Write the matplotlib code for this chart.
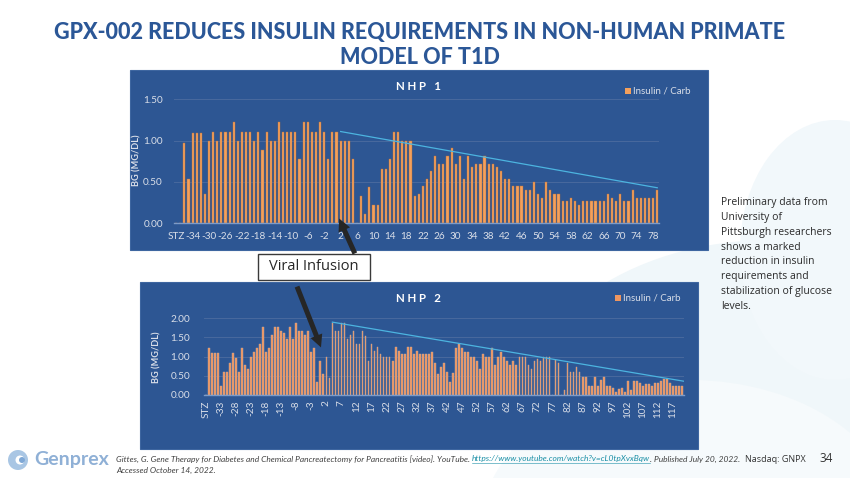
import matplotlib
matplotlib.use("Agg")
import matplotlib.pyplot as plt
from matplotlib.patches import Rectangle, FancyArrowPatch, Ellipse, Wedge

W, H = 850, 478

# ---------------- data ----------------
nhp1_days = list(range(-38, 80))
nhp1_values = [
    0, 0, 0.97, 0.54, 1.09, 1.09, 1.09, 0.36, 1.00, 1.11,
    1.00, 1.11, 1.11, 1.11, 1.22, 1.00, 1.11, 1.11, 1.11, 1.00,
    1.11, 0.89, 1.11, 1.00, 1.00, 1.22, 1.11, 1.11, 1.11, 1.11,
    0.78, 1.22, 1.22, 1.11, 1.11, 1.22, 1.11, 0.78, 1.11, 1.11,
    1.00, 1.00, 1.00, 0.78, 0, 0.33, 0.11, 0.44, 0.22, 0.22,
    0.66, 0.66, 0.78, 1.11, 1.11, 1.00, 1.00, 1.00, 0.33, 0.35,
    0.45, 0.54, 0.63, 0.81, 0.72, 0.72, 0.81, 0.91, 0.72, 0.81,
    0.54, 0.81, 0.68, 0.72, 0.72, 0.81, 0.72, 0.72, 0.68, 0.63,
    0.54, 0.54, 0.45, 0.45, 0.45, 0.40, 0.40, 0.50, 0.35, 0.31,
    0.50, 0.40, 0.35, 0.35, 0.27, 0.27, 0.31, 0.27, 0.22, 0.27,
    0.27, 0.27, 0.27, 0.27, 0.27, 0.35, 0.31, 0.27, 0.35, 0.27,
    0.27, 0.40, 0.31, 0.31, 0.31, 0.31, 0.31, 0.40,
]
nhp1_trend_days = [2, 79]
nhp1_trend_values = [1.11, 0.43]

nhp2_days = list(range(-38, 121))
nhp2_values = [
    0, 1.22, 1.09, 1.09, 1.09, 0.23, 0.59, 0.59, 0.83, 1.09,
    0.97, 0.59, 1.22, 0.78, 0.67, 1.00, 1.11, 1.22, 1.32, 1.77,
    1.11, 1.22, 1.56, 1.77, 1.77, 1.66, 1.61, 1.46, 1.77, 1.46,
    1.87, 1.66, 1.66, 1.56, 1.66, 1.11, 1.22, 0.33, 0.88, 0.56,
    1.00, 0.44, 1.89, 1.66, 1.66, 1.89, 1.87, 1.46, 1.56, 1.66,
    1.33, 1.33, 1.66, 1.55, 0.88, 1.32, 1.16, 1.24, 1.06, 0.98,
    0.98, 0.98, 0.88, 1.24, 1.16, 1.06, 1.06, 1.24, 1.24, 1.06,
    1.16, 1.06, 1.06, 1.06, 1.06, 1.11, 0.83, 0.55, 0.72, 0.83,
    0.59, 0.33, 0.57, 1.22, 1.33, 1.22, 1.11, 1.11, 1.00, 1.00,
    0.88, 0.67, 1.06, 1.00, 1.00, 1.22, 0.78, 1.00, 1.11, 1.00,
    0.88, 0.78, 0.88, 0.78, 1.00, 1.00, 1.00, 0.78, 0.67, 0.88,
    0.94, 0.88, 1.00, 1.00, 1.00, 0, 0.90, 0.83, 0, 0.13,
    0.83, 0.59, 0.59, 0.72, 0.59, 0.48, 0.48, 0.23, 0.23, 0.48,
    0.23, 0.39, 0.48, 0.23, 0.23, 0.17, 0.09, 0.15, 0.17, 0.09,
    0.37, 0.13, 0.37, 0.37, 0.30, 0.23, 0.28, 0.28, 0.23, 0.30,
    0.30, 0.37, 0.42, 0.42, 0.30, 0.23, 0.23, 0.23, 0.23,
]
nhp2_trend_days = [4, 120.5]
nhp2_trend_values = [1.90, 0.36]

first_label = "STZ"
series_name = "Insulin / Carb"
y_label = "BG (MG/DL)"
nhp1_yticks = [0.0, 0.5, 1.0, 1.5]
nhp2_yticks = [0.0, 0.5, 1.0, 1.5, 2.0]

title = "GPX-002 REDUCES INSULIN REQUIREMENTS IN NON-HUMAN PRIMATE\nMODEL OF T1D"
side_text = ("Preliminary data from\nUniversity of\nPittsburgh researchers\n"
             "shows a marked\nreduction in insulin\nrequirements and\n"
             "stabilization of glucose\nlevels.")

# ---------------- styling ----------------
PANEL = "#2D5693"
BAR = "#F4A05C"
BAR_EDGE = "#B8703C"
BAR2 = "#EE9660"
BAR2_EDGE = "#C8A89A"
TICK_C = "#D9DEE8"
GRID_C = "#48699E"
TREND_C = "#4CB4E0"
TITLE_C = "#2B5797"


def fx(x):
    return x / W


def fy(y):
    return 1 - y / H


fig = plt.figure(figsize=(W / 100, H / 100), dpi=100)
fig.patch.set_facecolor("white")

# faint decorative background shapes
for (cx, cy, w, h, c) in [(770, 430, 520, 380, "#F0F7FA"), (690, 530, 420, 300, "#F6FAFC"),
                          (835, 250, 190, 260, "#F2F8FB")]:
    fig.add_artist(Ellipse((fx(cx), fy(cy)), w / W, h / H, transform=fig.transFigure,
                           facecolor=c, edgecolor="none", zorder=-5))

# title
fig.text(fx(420), fy(45), title, ha="center", va="center", fontsize=15.5,
         fontweight="black", color=TITLE_C, family="Lato", linespacing=1.2)

# panels
for (x0, y0, x1, y1) in [(130, 70, 708, 250), (140, 282, 698, 449)]:
    fig.add_artist(Rectangle((fx(x0), fy(y1)), (x1 - x0) / W, (y1 - y0) / H,
                             transform=fig.transFigure, facecolor=PANEL,
                             edgecolor="#3E66A0", lw=0.8, zorder=-1))


def style_axes(ax, yticks, ypad):
    ax.set_facecolor("none")
    for s in ["top", "right", "left"]:
        ax.spines[s].set_visible(False)
    ax.spines["bottom"].set_color("#7D9BC8")
    ax.spines["bottom"].set_linewidth(1.0)
    ax.set_yticks(yticks)
    ax.set_yticklabels([f"{v:.2f}" for v in yticks], family="Lato", fontsize=7.2, color=TICK_C)
    ax.yaxis.grid(True, color=GRID_C, lw=0.7)
    ax.set_axisbelow(True)
    ax.tick_params(axis="both", length=0, colors=TICK_C)
    ax.tick_params(axis="y", pad=ypad)


# ---- NHP 1 ----
ax1 = fig.add_axes([fx(174.1), fy(223.3), (659.3 - 174.1) / W, (223.3 - 99.3) / H])
ax1.bar(nhp1_days, nhp1_values, width=0.52, color=BAR, edgecolor=BAR_EDGE, lw=0.3, zorder=2)
ax1.plot(nhp1_trend_days, nhp1_trend_values, color=TREND_C, lw=0.9, zorder=3)
ax1.set_xlim(nhp1_days[0] - 0.5, nhp1_days[-1] + 0.5)
ax1.set_ylim(nhp1_yticks[0], nhp1_yticks[-1])
style_axes(ax1, nhp1_yticks, 8)
t1 = nhp1_days[::4]
ax1.set_xticks(t1)
ax1.set_xticklabels([first_label] + [str(d) for d in t1[1:]], family="Lato", fontsize=7.2, color=TICK_C)
ax1.tick_params(axis="x", pad=6)

fig.text(fx(418), fy(87), "N H P   1", ha="center", va="center", fontsize=8.3,
         fontweight="bold", color="white", family="Lato")
fig.text(fx(137), fy(160), y_label, rotation=90, ha="center", va="center", fontsize=6.6,
         fontweight="bold", color=TICK_C, family="Lato")
fig.add_artist(Rectangle((fx(625), fy(93.5)), 6 / W, 6 / H, transform=fig.transFigure,
                         facecolor=BAR, edgecolor="none"))
fig.text(fx(633), fy(90.5), series_name, ha="left", va="center", fontsize=7,
         color=TICK_C, family="Lato")

# ---- NHP 2 ----
ax2 = fig.add_axes([fx(204.2), fy(395), (683.7 - 204.2) / W, (395 - 318.3) / H])
ax2.bar(nhp2_days, nhp2_values, width=0.55, color=BAR2, edgecolor=BAR2_EDGE, lw=0.3, zorder=2)
ax2.plot(nhp2_trend_days, nhp2_trend_values, color=TREND_C, lw=0.9, zorder=3)
ax2.set_xlim(nhp2_days[0] - 0.5, nhp2_days[-1] + 0.5)
ax2.set_ylim(nhp2_yticks[0], nhp2_yticks[-1])
style_axes(ax2, nhp2_yticks, 10)
t2 = nhp2_days[::5]
ax2.set_xticks(t2)
ax2.set_xticklabels([first_label] + [str(d) for d in t2[1:]], family="Lato", fontsize=7.2,
                    color=TICK_C, rotation=90)
ax2.tick_params(axis="x", pad=4)

fig.text(fx(418), fy(298), "N H P   2", ha="center", va="center", fontsize=8.3,
         fontweight="bold", color="white", family="Lato")
fig.text(fx(157), fy(357), y_label, rotation=90, ha="center", va="center", fontsize=6.6,
         fontweight="bold", color=TICK_C, family="Lato")
fig.add_artist(Rectangle((fx(615), fy(301)), 6 / W, 6 / H, transform=fig.transFigure,
                         facecolor=BAR2, edgecolor="none"))
fig.text(fx(623), fy(298), series_name, ha="left", va="center", fontsize=7,
         color=TICK_C, family="Lato")

# ---- Viral infusion callout ----
fig.add_artist(Rectangle((fx(258), fy(280)), 112 / W, 26 / H, transform=fig.transFigure,
                         facecolor="white", edgecolor="#3A3A3A", lw=1.0, zorder=5))
fig.text(fx(314), fy(267), "Viral Infusion", ha="center", va="center", fontsize=10.5,
         color="#262626", family="Open Sans", zorder=6)
for (p0, p1) in [((356, 256), (338, 216)), ((296, 284), (322, 350))]:
    fig.add_artist(FancyArrowPatch((fx(p0[0]), fy(p0[1])), (fx(p1[0]), fy(p1[1])),
                                   transform=fig.transFigure,
                                   arrowstyle="simple,head_length=9,head_width=9,tail_width=3.6",
                                   mutation_scale=1, color="#262626", lw=0, zorder=7))

# ---- side text ----
fig.text(fx(721), fy(197), side_text, ha="left", va="top", fontsize=7.5, color="#2A2A2A",
         family="Open Sans", linespacing=1.48)

# ---- footer ----
fig.add_artist(Ellipse((fx(18), fy(460)), 20 / W, 20 / H, transform=fig.transFigure,
                       facecolor="#A9C6E4", edgecolor="none"))
fig.add_artist(Ellipse((fx(20), fy(460)), 9 / W, 9 / H, transform=fig.transFigure,
                       facecolor="white", edgecolor="none"))
fig.add_artist(Ellipse((fx(22), fy(460)), 6 / W, 6 / H, transform=fig.transFigure,
                       facecolor="#7FA8D6", edgecolor="none"))
fig.text(fx(34), fy(460), "Genprex", ha="left", va="center", fontsize=14,
         fontweight="bold", color="#8FB0D6", family="Lato")

renderer = fig.canvas.get_renderer()
cite_parts = [("Gittes, G. Gene Therapy for Diabetes and Chemical Pancreatectomy for Pancreatitis [video]. YouTube. ", "#404040", False),
              ("https://www.youtube.com/watch?v=cL0tpXvxBqw", "#1A8FA6", True),
              (". Published July 20, 2022.", "#404040", False)]
x = fx(116)
for txt, col, ul in cite_parts:
    t = fig.text(x, fy(459), txt, ha="left", va="center", fontsize=6.0, style="italic",
                 color=col, family="Lato")
    bb = t.get_window_extent(renderer)
    x0 = x
    x += bb.width / (W * fig.dpi / 100)
    if ul:
        fig.add_artist(plt.Line2D([x0, x], [fy(463), fy(463)], transform=fig.transFigure,
                                  color=col, lw=0.4))
fig.text(fx(116), fy(470), "Accessed October 14, 2022.", ha="left", va="center", fontsize=6.0,
         style="italic", color="#404040", family="Lato")
fig.text(fx(745), fy(459), "Nasdaq: GNPX", ha="left", va="center", fontsize=6.5,
         color="#333333", family="Open Sans")
fig.text(fx(820), fy(458), "34", ha="left", va="center", fontsize=8.5,
         color="#333333", family="Open Sans")

fig.savefig("out.png", dpi=100)
